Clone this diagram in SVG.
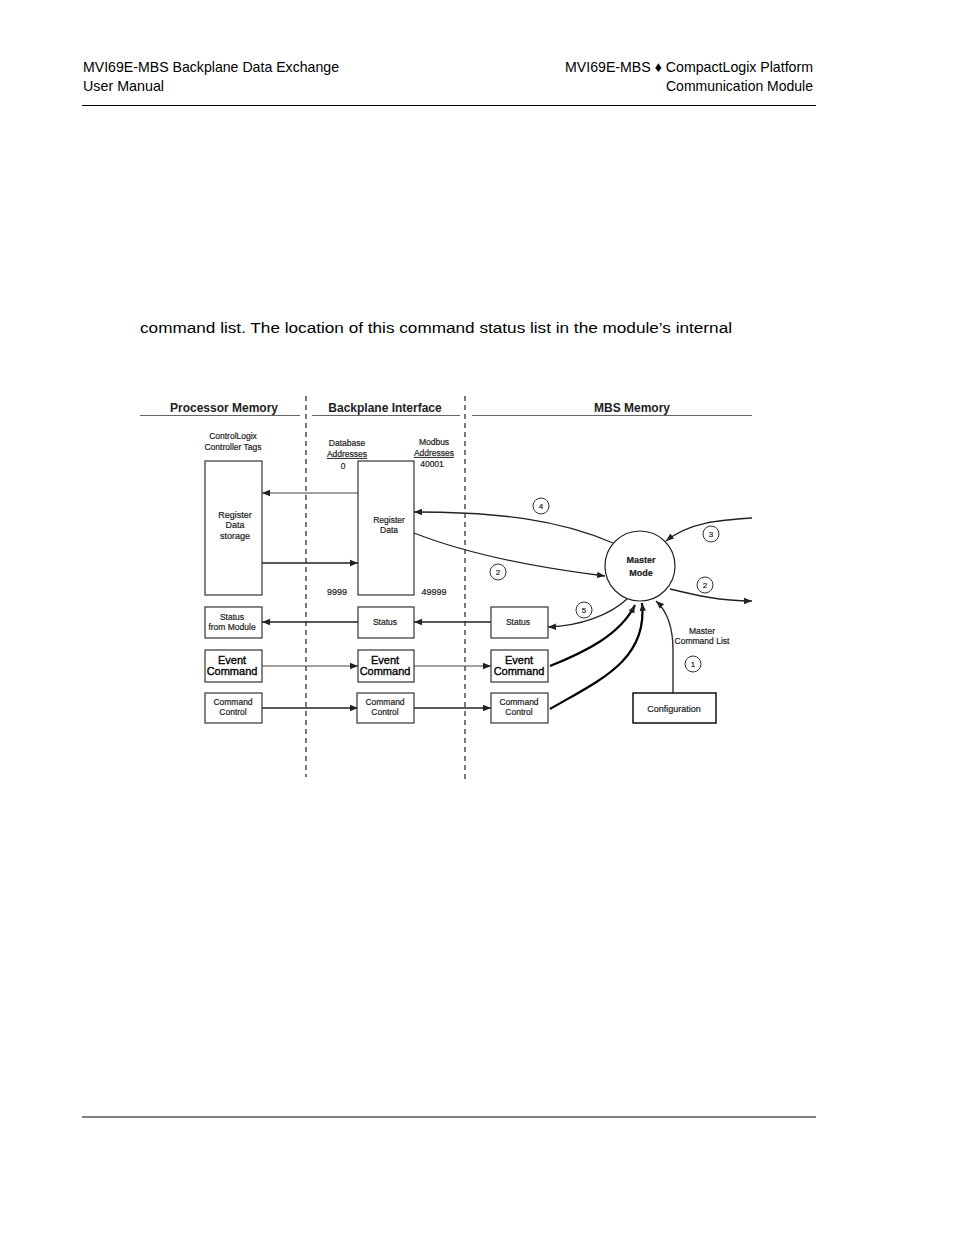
<svg xmlns="http://www.w3.org/2000/svg" width="954" height="1235" viewBox="0 0 954 1235">
<defs>
<style>
.hdr{font-family:"Liberation Sans",Arial,sans-serif;font-size:14.5px;fill:#000}
.body{font-family:"Liberation Sans",Arial,sans-serif;font-size:15.5px;fill:#000}
.sec{font-family:"Liberation Sans",Arial,sans-serif;font-size:12px;font-weight:bold;fill:#222;text-anchor:middle}
.sm{font-family:"Liberation Sans",Arial,sans-serif;font-size:8.5px;fill:#222;stroke:#222;stroke-width:0.2;text-anchor:middle}
.md{font-family:"Liberation Sans",Arial,sans-serif;font-size:9px;fill:#222;stroke:#222;stroke-width:0.2;text-anchor:middle}
.big{font-family:"Liberation Sans",Arial,sans-serif;font-size:11px;fill:#000;stroke:#000;stroke-width:0.35;text-anchor:middle}
.box{fill:#fff;stroke:#333;stroke-width:1.2}
.rule{stroke:#666;stroke-width:1}
.dash{stroke:#222;stroke-width:1.2;stroke-dasharray:5,4}
.thin{fill:none;stroke:#444;stroke-width:1;marker-end:url(#ah)}
.med{fill:none;stroke:#222;stroke-width:1.3;marker-end:url(#ah)}
.thick{fill:none;stroke:#000;stroke-width:2.2;marker-end:url(#ah)}
.num circle{fill:#fff;stroke:#333;stroke-width:1}
.num text{font-family:"Liberation Sans",Arial,sans-serif;font-size:8px;fill:#222;stroke:#222;stroke-width:0.2;text-anchor:middle}
</style>
<marker id="ah" viewBox="0 0 10 10" refX="10" refY="5" markerWidth="8" markerHeight="8" markerUnits="userSpaceOnUse" orient="auto">
<path d="M0,1 L10,5 L0,9 z" fill="#222"/>
</marker>
</defs>
<rect width="954" height="1235" fill="#fff"/>

<g id="page-header">
<text class="hdr" x="83" y="72" textLength="256" lengthAdjust="spacingAndGlyphs">MVI69E-MBS Backplane Data Exchange</text>
<text class="hdr" x="83" y="91" textLength="81" lengthAdjust="spacingAndGlyphs">User Manual</text>
<text class="hdr" x="813" y="72" text-anchor="end" textLength="248" lengthAdjust="spacingAndGlyphs">MVI69E-MBS ♦ CompactLogix Platform</text>
<text class="hdr" x="813" y="91" text-anchor="end" textLength="147" lengthAdjust="spacingAndGlyphs">Communication Module</text>
<line x1="82" y1="105.5" x2="816" y2="105.5" stroke="#000" stroke-width="1.2"/>
</g>

<g id="body-text">
<text class="body" x="140" y="333" textLength="592" lengthAdjust="spacingAndGlyphs">command list. The location of this command status list in the module’s internal</text>
</g>

<g id="footer">
<line x1="82" y1="1117" x2="816" y2="1117" stroke="#000" stroke-width="1.2"/>
</g>

<g id="sections">
<text class="sec" x="224" y="412">Processor Memory</text>
<line class="rule" x1="140" y1="415.5" x2="300" y2="415.5"/>
<text class="sec" x="385" y="412">Backplane Interface</text>
<line class="rule" x1="312" y1="415.5" x2="460" y2="415.5"/>
<text class="sec" x="632" y="412">MBS Memory</text>
<line class="rule" x1="472" y1="415.5" x2="752" y2="415.5"/>
<line class="dash" x1="306" y1="396" x2="306" y2="777"/>
<line class="dash" x1="465" y1="396" x2="465" y2="780"/>
</g>

<g id="labels">
<text class="sm" x="233" y="439">ControlLogix</text>
<text class="sm" x="233" y="450">Controller Tags</text>
<text class="sm" x="347" y="446">Database</text>
<text class="sm" x="347" y="457" text-decoration="underline">Addresses</text>
<text class="sm" x="343" y="469">0</text>
<text class="sm" x="434" y="445">Modbus</text>
<text class="sm" x="434" y="456" text-decoration="underline">Addresses</text>
<text class="sm" x="432" y="467">40001</text>
<text class="md" x="337" y="595">9999</text>
<text class="md" x="434" y="595">49999</text>
<text class="sm" x="702" y="634">Master</text>
<text class="sm" x="702" y="644">Command List</text>
</g>

<g id="connectors">
<line class="thin" x1="358" y1="493" x2="262" y2="493"/>
<line class="med" x1="262" y1="563" x2="358" y2="563"/>
<path class="med" d="M613,543 C560,520 500,512 414,512"/>
<path class="med" d="M414,533 C470,555 540,568 605,576"/>
<path class="med" d="M752,518 C720,520 690,522 666,541"/>
<path class="med" d="M670,589 C695,595 720,601 752,601"/>
<path class="med" d="M627,599 C610,615 580,626 548,627"/>
<line class="med" x1="491" y1="622" x2="414" y2="622"/>
<line class="med" x1="358" y1="622" x2="262" y2="622"/>
<line class="thin" x1="262" y1="666" x2="358" y2="666"/>
<line class="thin" x1="414" y1="666" x2="491" y2="666"/>
<line class="med" x1="262" y1="708" x2="358" y2="708"/>
<line class="med" x1="414" y1="708" x2="491" y2="708"/>
<path class="thick" d="M550,666 C585,652 620,635 635,605"/>
<path class="thick" d="M550,709 C600,680 648,660 642,603"/>
<path class="med" d="M673,693 L673,650 C673,630 668,612 656,601"/>
</g>

<g id="processor-register-data">
<rect class="box" x="205" y="461" width="57" height="134"/>
<text class="md" x="235" y="518">Register</text>
<text class="md" x="235" y="528">Data</text>
<text class="md" x="235" y="539">storage</text>
</g>
<g id="backplane-register-data">
<rect class="box" x="358" y="461" width="56" height="134"/>
<text class="sm" x="389" y="523">Register</text>
<text class="sm" x="389" y="533">Data</text>
</g>
<g id="master-mode">
<circle cx="640" cy="566" r="35" fill="#fff" stroke="#222" stroke-width="1.2"/>
<text class="md" x="641" y="563" font-weight="bold">Master</text>
<text class="md" x="641" y="576" font-weight="bold">Mode</text>
</g>

<g id="status-from-module">
<rect class="box" x="205" y="607" width="57" height="31"/>
<text class="sm" x="232" y="620">Status</text>
<text class="sm" x="232" y="630">from Module</text>
</g>
<g id="status-backplane">
<rect class="box" x="358" y="607" width="56" height="31"/>
<text class="sm" x="385" y="625">Status</text>
</g>
<g id="status-mbs">
<rect class="box" x="491" y="607" width="57" height="31"/>
<text class="sm" x="518" y="625">Status</text>
</g>

<g id="event-command-processor">
<rect class="box" x="205" y="650" width="57" height="32"/>
<text class="big" x="232" y="664">Event</text>
<text class="big" x="232" y="675">Command</text>
</g>
<g id="event-command-backplane">
<rect class="box" x="358" y="650" width="56" height="32"/>
<text class="big" x="385" y="664">Event</text>
<text class="big" x="385" y="675">Command</text>
</g>
<g id="event-command-mbs">
<rect class="box" x="491" y="650" width="57" height="32"/>
<text class="big" x="519" y="664">Event</text>
<text class="big" x="519" y="675">Command</text>
</g>

<g id="command-control-processor">
<rect class="box" x="205" y="693" width="57" height="30"/>
<text class="sm" x="233" y="705">Command</text>
<text class="sm" x="233" y="715">Control</text>
</g>
<g id="command-control-backplane">
<rect class="box" x="357" y="693" width="57" height="30"/>
<text class="sm" x="385" y="705">Command</text>
<text class="sm" x="385" y="715">Control</text>
</g>
<g id="command-control-mbs">
<rect class="box" x="491" y="693" width="57" height="30"/>
<text class="sm" x="519" y="705">Command</text>
<text class="sm" x="519" y="715">Control</text>
</g>

<g id="configuration">
<rect x="633" y="693" width="83" height="30" fill="#fff" stroke="#111" stroke-width="1.5"/>
<text class="md" x="674" y="712">Configuration</text>
</g>

<g id="step-numbers" class="num">
<circle cx="541" cy="506" r="8"/><text x="541" y="509">4</text>
<circle cx="498" cy="572" r="8"/><text x="498" y="575">2</text>
<circle cx="711" cy="534" r="8"/><text x="711" y="537">3</text>
<circle cx="705" cy="585" r="8"/><text x="705" y="588">2</text>
<circle cx="584" cy="610" r="8"/><text x="584" y="613">5</text>
<circle cx="693" cy="664" r="8"/><text x="693" y="667">1</text>
</g>
</svg>
